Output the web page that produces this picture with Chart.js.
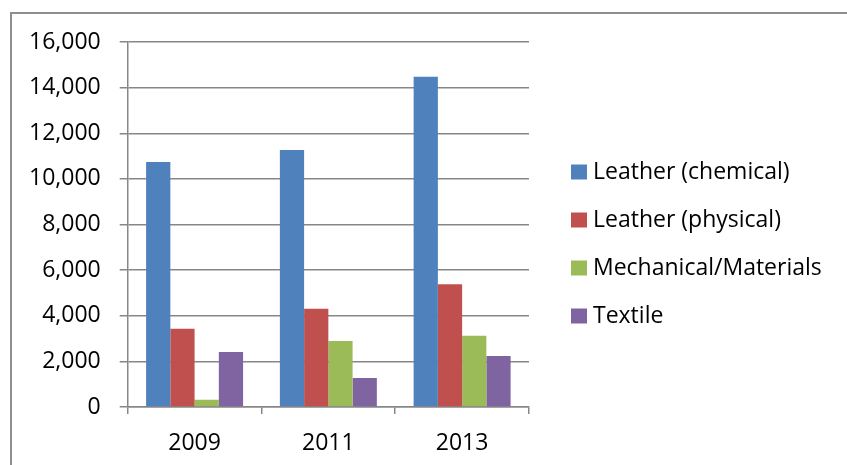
<!DOCTYPE html>
<html>
<head>
<meta charset="utf-8">
<script src="https://cdn.jsdelivr.net/npm/chart.js@4.4.1/dist/chart.umd.min.js"></script>
<style>
    html, body { margin: 0; padding: 0; background: #fff; }
    #wrap { position: relative; width: 847px; height: 465px; overflow: hidden; }
    #frame {
        position: absolute; left: 10px; top: 12px; width: 900px; height: 500px;
        border-left: 2px solid #8e8e8e; border-top: 2px solid #8e8e8e;
    }
    #chart { position: absolute; left: 0; top: 0; }
</style>
</head>
<body>
<div id="wrap">
    <div id="frame"></div>
    <canvas id="chart" width="847" height="472"></canvas>
</div>
<script>
const years = ['2009', '2011', '2013'];
const leatherChemical = [10740, 11270, 14480];
const leatherPhysical = [3430, 4310, 5380];
const mechanicalMaterials = [320, 2890, 3130];
const textile = [2410, 1270, 2240];
const yTicks = [0, 2000, 4000, 6000, 8000, 10000, 12000, 14000, 16000];

const gridColor = '#878787';
const fontFamily = "'Open Sans', 'Liberation Sans', sans-serif";

// legend drawn by hand to the right of the plot (the built-in one gets squeezed)
const sideLegend = {
    id: 'sideLegend',
    afterDraw(chart) {
        const c = chart.ctx;
        const area = chart.chartArea;
        const boxX = area.right + 42;
        c.save();
        c.font = '23px ' + fontFamily;
        c.textBaseline = 'middle';
        c.textAlign = 'left';
        chart.data.datasets.forEach(function(ds, i) {
            const cy = area.top + 130 + i * 48;
            c.fillStyle = ds.backgroundColor;
            c.fillRect(boxX, cy - 7.5, 16, 15);
            c.fillStyle = '#000';
            c.fillText(ds.label, boxX + 22, cy);
        });
        c.restore();
    }
};

const ctx = document.getElementById('chart').getContext('2d');
const chart = new Chart(ctx, {
    type: 'bar',
    data: {
        labels: years,
        datasets: [
            { label: 'Leather (chemical)', data: leatherChemical, backgroundColor: '#4f81bd' },
            { label: 'Leather (physical)', data: leatherPhysical, backgroundColor: '#c0504d' },
            { label: 'Mechanical/Materials', data: mechanicalMaterials, backgroundColor: '#9bbb59' },
            { label: 'Textile', data: textile, backgroundColor: '#8064a2' }
        ]
    },
    options: {
        responsive: false,
        animation: false,
        layout: {
            padding: { left: 10, top: 42, right: 318, bottom: 0 }
        },
        datasets: {
            bar: { categoryPercentage: 0.725, barPercentage: 1.0 }
        },
        plugins: {
            legend: { display: false },
            tooltip: { enabled: false }
        },
        scales: {
            x: {
                grid: {
                    drawOnChartArea: false,
                    drawTicks: true,
                    tickLength: 7,
                    color: gridColor,
                    lineWidth: 1.5
                },
                border: { color: gridColor, width: 1.5 },
                ticks: {
                    color: '#000',
                    padding: 20,
                    font: { family: fontFamily, size: 23, lineHeight: 0.78 }
                }
            },
            y: {
                min: 0,
                max: 16000,
                afterBuildTicks: function(scale) {
                    scale.ticks = yTicks.map(v => ({ value: v }));
                },
                grid: {
                    tickLength: 8,
                    color: gridColor,
                    lineWidth: 1.5
                },
                border: { color: gridColor, width: 1.5 },
                ticks: {
                    color: '#000',
                    padding: 19,
                    font: { family: fontFamily, size: 23 },
                    callback: function(value) {
                        return value.toLocaleString('en-US');
                    }
                }
            }
        }
    },
    plugins: [sideLegend]
});
</script>
</body>
</html>
